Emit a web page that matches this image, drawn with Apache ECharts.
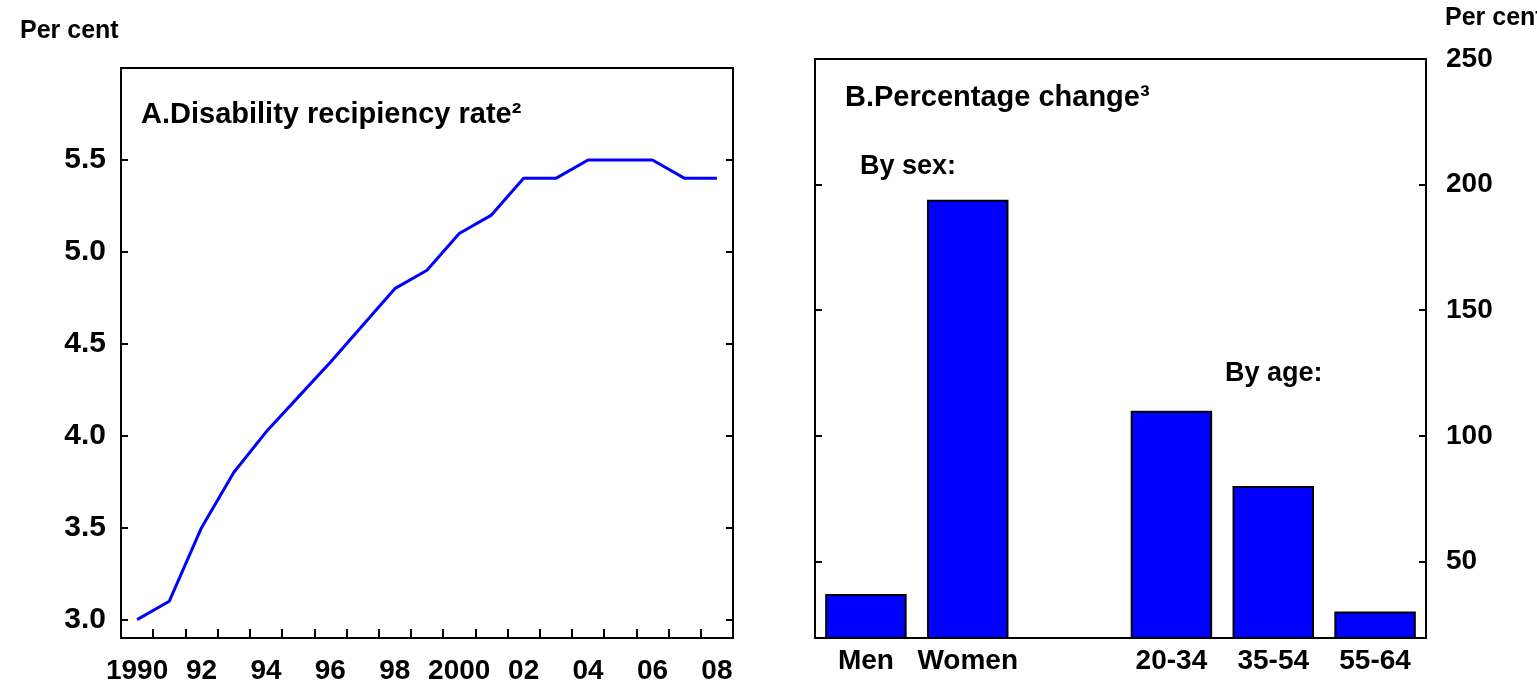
<!DOCTYPE html>
<html>
<head>
<meta charset="utf-8">
<script src="https://cdn.jsdelivr.net/npm/echarts@6/dist/echarts.min.js"></script>
<style>
  html, body { margin: 0; padding: 0; background: #fff; }
  #chart { width: 1537px; height: 685px; }
</style>
</head>
<body>
<div id="chart"></div>
<script>
// panel A: disability recipiency rate, per cent
const years = ['1990', '91', '92', '93', '94', '95', '96', '97', '98', '99',
  '2000', '01', '02', '03', '04', '05', '06', '07', '08'];
const recipiencyRate = [3.0, 3.1, 3.5, 3.8, 4.02, 4.21, 4.4, 4.6, 4.8, 4.9,
  5.1, 5.2, 5.4, 5.4, 5.5, 5.5, 5.5, 5.4, 5.4];
const rateTicks = [3.0, 3.5, 4.0, 4.5, 5.0, 5.5];

// panel B: percentage change
const groups = ['Men', 'Women', '', '20-34', '35-54', '55-64'];
const pctChange = [37, 194, null, 110, 80, 30];
const changeTicks = [50, 100, 150, 200, 250];

const FONT = '"Liberation Sans", Arial, Helvetica, sans-serif';
const BLUE = '#0000ff';

const chart = echarts.init(document.getElementById('chart'));

const txt = (size, weight) => ({
  fontFamily: FONT,
  fontSize: size,
  fontWeight: weight || 'bold',
  color: '#000'
});

const option = {
  animation: false,
  backgroundColor: '#fff',
  title: [
    { text: 'Per cent', left: 15, top: 14, textStyle: txt(25) },
    { text: 'Per cent', left: 1440, top: 1, textStyle: txt(25) },
    { text: 'A.Disability recipiency rate²', left: 136, top: 95, textStyle: txt(29) },
    { text: 'B.Percentage change³', left: 840, top: 78, textStyle: txt(29) }
  ],
  graphic: [
    { type: 'text', left: 860, top: 153, style: Object.assign({ text: 'By sex:' }, txt(27), { fill: '#000' }) },
    { type: 'text', left: 1225, top: 360, style: Object.assign({ text: 'By age:' }, txt(27), { fill: '#000' }) }
  ],
  grid: [
    { left: 121, top: 68, width: 612, height: 570, show: true, borderColor: '#000', borderWidth: 2, backgroundColor: '#fff' },
    { left: 815, top: 59, width: 611, height: 579, show: true, borderColor: '#000', borderWidth: 2, backgroundColor: '#fff' }
  ],
  xAxis: [
    {
      gridIndex: 0,
      type: 'category',
      data: years,
      boundaryGap: true,
      axisLine: { lineStyle: { color: '#000', width: 2 } },
      axisTick: { show: true, inside: true, length: 9, interval: 0, lineStyle: { color: '#000', width: 2 } },
      axisLabel: Object.assign({ interval: 1, margin: 19 }, txt(28)),
      splitLine: { show: false }
    },
    {
      gridIndex: 1,
      type: 'category',
      data: groups,
      axisLine: { lineStyle: { color: '#000', width: 2 } },
      axisTick: { show: false },
      axisLabel: Object.assign({ interval: 0, margin: 9 }, txt(28)),
      splitLine: { show: false }
    }
  ],
  yAxis: [
    {
      gridIndex: 0,
      type: 'value',
      position: 'left',
      min: 2.9,
      max: 6.0,
      axisLine: { show: true, lineStyle: { color: '#000', width: 2 } },
      axisTick: { show: true, inside: true, length: 7, customValues: rateTicks, lineStyle: { color: '#000', width: 2 } },
      axisLabel: Object.assign({
        margin: 15,
        customValues: rateTicks,
        formatter: v => v.toFixed(1)
      }, txt(30)),
      splitLine: { show: false }
    },
    {
      gridIndex: 0,
      type: 'value',
      position: 'right',
      min: 2.9,
      max: 6.0,
      axisLine: { show: true, lineStyle: { color: '#000', width: 2 } },
      axisTick: { show: true, inside: true, length: 7, customValues: rateTicks, lineStyle: { color: '#000', width: 2 } },
      axisLabel: { show: false },
      splitLine: { show: false }
    },
    {
      gridIndex: 1,
      type: 'value',
      position: 'right',
      min: 19.5,
      max: 250,
      axisLine: { show: true, lineStyle: { color: '#000', width: 2 } },
      axisTick: { show: true, inside: true, length: 7, customValues: changeTicks, lineStyle: { color: '#000', width: 2 } },
      axisLabel: Object.assign({ margin: 20, customValues: changeTicks }, txt(28)),
      splitLine: { show: false }
    },
    {
      gridIndex: 1,
      type: 'value',
      position: 'left',
      min: 19.5,
      max: 250,
      axisLine: { show: true, lineStyle: { color: '#000', width: 2 } },
      axisTick: { show: true, inside: true, length: 7, customValues: changeTicks, lineStyle: { color: '#000', width: 2 } },
      axisLabel: { show: false },
      splitLine: { show: false }
    }
  ],
  series: [
    {
      name: 'Disability recipiency rate',
      type: 'line',
      xAxisIndex: 0,
      yAxisIndex: 0,
      data: recipiencyRate,
      showSymbol: false,
      lineStyle: { color: BLUE, width: 3 },
      itemStyle: { color: BLUE }
    },
    {
      name: 'Percentage change',
      type: 'bar',
      xAxisIndex: 1,
      yAxisIndex: 2,
      data: pctChange,
      barCategoryGap: '20%',
      itemStyle: { color: BLUE, borderColor: '#000', borderWidth: 2 }
    }
  ]
};

chart.setOption(option);
</script>
</body>
</html>
